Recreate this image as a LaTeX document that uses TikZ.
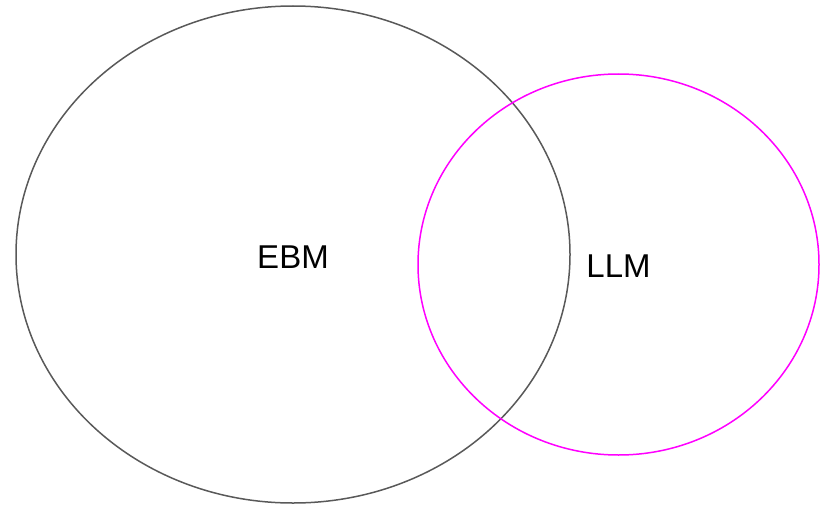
\documentclass[tikz,border=0pt]{standalone}
\usepackage{fontspec}
\setmainfont{Liberation Sans}
\usepackage{tikz}
\definecolor{llmpink}{RGB}{255,0,255}
\definecolor{ebmgray}{RGB}{89,89,89}

\begin{document}
\begin{tikzpicture}[x=1pt,y=-1pt]
    \useasboundingbox (0,0) rectangle (827,511);
    % EBM
    \draw[line width=1.5pt,ebmgray] (293,254.5) ellipse [x radius=277, y radius=248.5];
    % LLM
    \draw[line width=1.5pt,llmpink] (618.5,264.5) ellipse [x radius=200.5, y radius=190.5];

    % Labels
    \node (ebm) at (293,257) {\fontsize{33}{40}\selectfont EBM};
    \node (llm) at (618.5,266) {\fontsize{33}{40}\selectfont LLM};
\end{tikzpicture}
\end{document}
